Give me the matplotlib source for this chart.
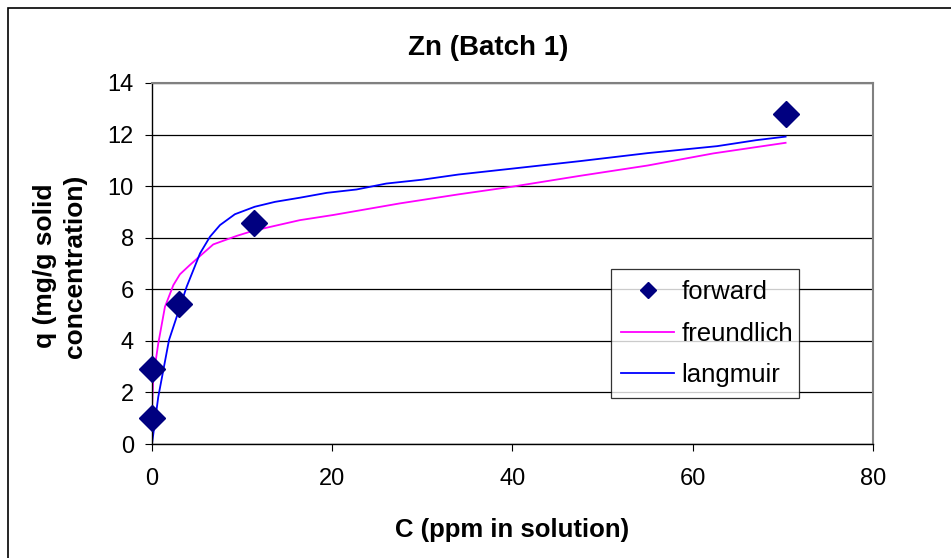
import matplotlib.pyplot as plt
from matplotlib.patches import Rectangle

# measured points (forward batch)
forward_c = [0.03, 0.03, 3.05, 11.3, 70.3]
forward_q = [1.0, 2.9, 5.42, 8.58, 12.78]

# freundlich fit curve
freund_c = [0.005, 0.15, 0.7, 1.44, 2.37, 3.1, 4.2, 5.33, 6.8, 9.4, 11.25, 16.4,
            20.1, 27.5, 34.0, 40.0, 47.5, 55.0, 62.3, 70.3]
freund_q = [1.4, 2.6, 3.9, 5.32, 6.16, 6.58, 6.94, 7.29, 7.74, 8.07, 8.27, 8.68,
            8.88, 9.33, 9.68, 9.98, 10.4, 10.8, 11.27, 11.68]

# langmuir fit curve
lang_c = [0.0, 0.7, 1.89, 3.85, 5.33, 6.44, 7.55, 9.2, 11.4, 13.65, 16.4, 19.4,
          22.7, 26.0, 30.0, 34.0, 40.0, 47.5, 55.0, 62.7, 67.0, 70.3]
lang_q = [0.0, 1.83, 4.03, 6.1, 7.39, 8.04, 8.49, 8.91, 9.2, 9.39, 9.55, 9.74,
          9.87, 10.1, 10.25, 10.45, 10.68, 10.97, 11.28, 11.55, 11.78, 11.92]

x_ticks = [0, 20, 40, 60, 80]
y_ticks = [0, 2, 4, 6, 8, 10, 12, 14]

plt.rcParams['font.family'] = ['Liberation Sans', 'DejaVu Sans']

fig = plt.figure(figsize=(9.51, 5.58), dpi=100)
ax = fig.add_axes([0.1598, 0.2043, 0.7582, 0.647])

ax.plot(freund_c, freund_q, color='#FF00FF', linewidth=1.3, label='freundlich', zorder=2)
ax.plot(lang_c, lang_q, color='#0000FF', linewidth=1.3, label='langmuir', zorder=2)
ax.plot(forward_c, forward_q, linestyle='none', marker='D', markersize=13.5,
        color='#000080', label='forward', zorder=3, clip_on=False)

ax.set_xlim(0, 80)
ax.set_ylim(0, 14)
ax.set_xticks(x_ticks)
ax.set_yticks(y_ticks)
ax.tick_params(labelsize=17, direction='out', length=5, width=0.8, pad=8)
ax.tick_params(axis='x', pad=12)

ax.yaxis.grid(True, color='black', linewidth=0.9)
ax.set_axisbelow(True)
for side in ['top', 'right']:
    ax.spines[side].set_color('#808080')
    ax.spines[side].set_linewidth(1.5)
for side in ['left', 'bottom']:
    ax.spines[side].set_color('black')
    ax.spines[side].set_linewidth(1.0)

# legend order: forward, freundlich, langmuir
handles, labels = ax.get_legend_handles_labels()
order = [2, 0, 1]
leg = ax.legend([handles[i] for i in order], [labels[i] for i in order],
                loc='upper left', bbox_to_anchor=(0.636, 0.143, 0.261, 0.341),
                mode='expand', fontsize=18.5, frameon=True, fancybox=False,
                borderpad=0.42, labelspacing=0.68, handlelength=2.05,
                handletextpad=0.3, borderaxespad=0, markerscale=0.6)
leg.get_frame().set_edgecolor('black')
leg.get_frame().set_linewidth(0.9)

fig.text(488 / 951, 1 - 55 / 558, 'Zn (Batch 1)', ha='center', va='baseline',
         fontsize=20, fontweight='bold')
fig.text(512 / 951, 1 - 537 / 558, 'C (ppm in solution)', ha='center', va='baseline',
         fontsize=18.5, fontweight='bold')
fig.text(60 / 951, 1 - 266 / 558, 'q (mg/g solid\nconcentration)', ha='center',
         va='center', rotation=90, fontsize=19, fontweight='bold',
         multialignment='center', linespacing=1.3)

# outer chart border
fig.patches.append(Rectangle((8 / 951, -0.05), 1.2, 0.05 + 1 - 8 / 558,
                             transform=fig.transFigure, fill=False,
                             edgecolor='black', linewidth=1.2))

fig.savefig('out.png', dpi=100)
